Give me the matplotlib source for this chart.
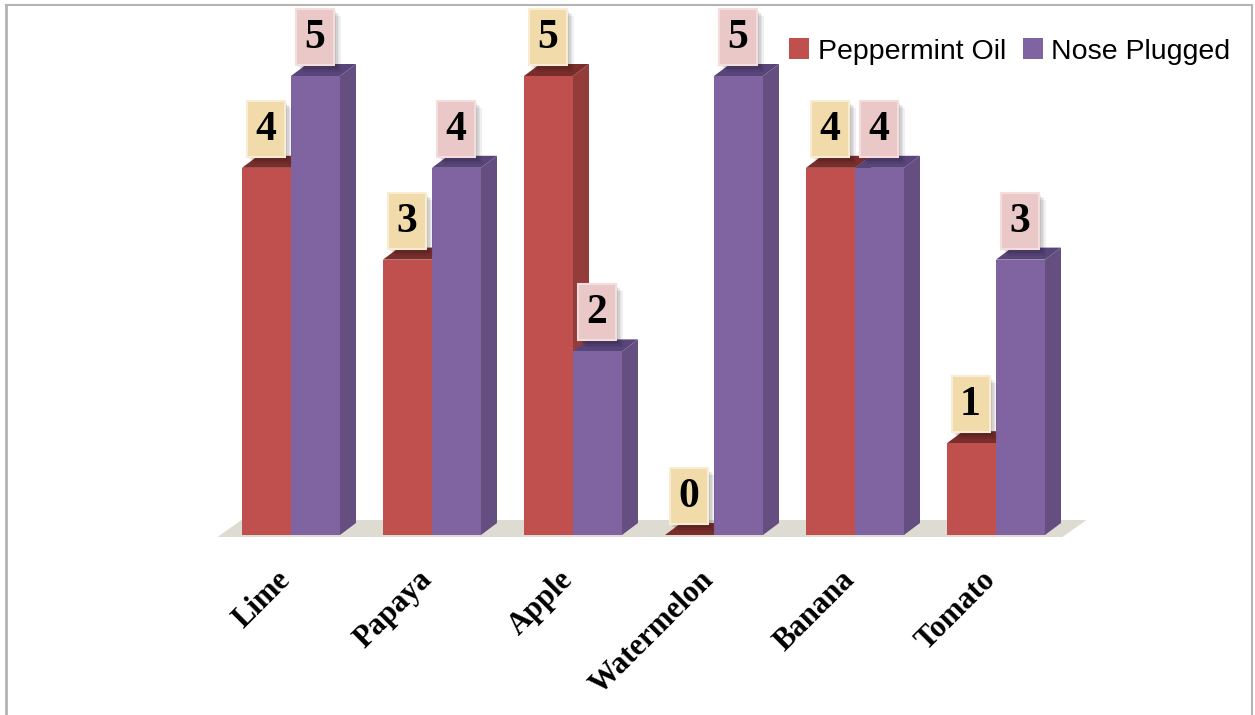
import matplotlib
matplotlib.use("Agg")
import matplotlib.pyplot as plt
from matplotlib.patches import Polygon, Rectangle, Patch
from matplotlib.lines import Line2D

# data
categorias = ["Lime", "Papaya", "Apple", "Watermelon", "Banana", "Tomato"]
series_nomes = ["Peppermint Oil", "Nose Plugged"]
peppermint = [4, 3, 5, 0, 4, 1]
nariz_tapado = [5, 4, 2, 5, 4, 3]

# estilo
cor_frente = ["#c0504d", "#8064a2"]
cor_lado = ["#943c39", "#644f80"]
cor_topo = ["#7a2e2c", "#58457a"]
cor_caixa = ["#f2dbaa", "#ebc8c8"]
cor_borda_caixa = ["#f8ecd2", "#f4dddd"]

W, H = 1255, 715
PX_X = 141.0      # pixels por categoria
PX_Y = 91.8       # pixels por unidade
X0, Y0 = 291, 535  # pixel do centro do grupo 0 / base


def px_x(p):
    return p / PX_X


def px_y(p):
    return p / PX_Y


fig = plt.figure(figsize=(W / 100, H / 100), dpi=100)
ax = fig.add_axes([0, 0, 1, 1])
ax.set_xlim(-X0 / PX_X, (W - X0) / PX_X)
ax.set_ylim(-(H - Y0) / PX_Y, Y0 / PX_Y)
ax.axis("off")

largura = px_x(49)
prof_x = px_x(16)
prof_y = px_y(12)

# chao
n = len(categorias)
chao_esq = -0.5 - px_x(3)
chao_dir = n - 1 + 0.5 - px_x(4)
piso = Polygon([(chao_esq, -px_y(2)), (chao_dir, -px_y(2)),
                (chao_dir + px_x(24), px_y(15)), (chao_esq + px_x(24), px_y(15))],
               closed=True, facecolor="#dedbd3", edgecolor="none", zorder=1)
ax.add_patch(piso)

valores = [peppermint, nariz_tapado]

for i in range(n):
    for s in range(2):
        v = valores[s][i]
        x0 = i - largura + s * largura
        x1 = x0 + largura
        z = 2 + i * 3 + s
        # lado
        ax.add_patch(Polygon([(x1, 0), (x1 + prof_x, prof_y),
                              (x1 + prof_x, v + prof_y), (x1, v)],
                             closed=True, facecolor=cor_lado[s], edgecolor="none", zorder=z))
        # topo
        ax.add_patch(Polygon([(x0, v), (x1, v), (x1 + prof_x, v + prof_y),
                              (x0 + prof_x, v + prof_y)],
                             closed=True, facecolor=cor_topo[s], edgecolor="none", zorder=z))
        # frente
        ax.bar(x0, v, width=largura, align="edge", color=cor_frente[s],
               edgecolor="none", zorder=z)

# rotulos de valor
cw, ch = px_x(38), px_y(56)
for i in range(n):
    for s in range(2):
        v = valores[s][i]
        cx = i - largura / 2 + s * largura - px_x(1)
        base = v + px_y(11)
        # sombra
        for k, a in enumerate([0.06, 0.06, 0.07, 0.08]):
            off = 7 - k * 1.5
            ax.add_patch(Rectangle((cx - cw / 2 + px_x(off), base - px_y(off)), cw, ch,
                                   facecolor="#000000", alpha=a, edgecolor="none", zorder=40))
        ax.add_patch(Rectangle((cx - cw / 2, base), cw, ch, facecolor=cor_caixa[s],
                               edgecolor=cor_borda_caixa[s], linewidth=1.5, zorder=41))
        ax.text(cx, base + ch / 2 - px_y(1), str(v), ha="center", va="center",
                fontsize=30, fontweight="bold", family="Liberation Serif",
                color="black", zorder=42)

# rotulos das categorias
for i, nome in enumerate(categorias):
    ax.text(i - px_x(15), -px_y(30), nome, rotation=45, rotation_mode="anchor",
            ha="right", va="top", fontsize=22, fontweight="bold",
            family="Liberation Serif", color="black")

# legenda
handles = [Patch(facecolor=cor_frente[k], edgecolor="none") for k in range(2)]
leg = fig.legend(handles, series_nomes, loc="upper right",
                 bbox_to_anchor=(1242 / W, 1 - 27 / H), ncol=2, frameon=False,
                 prop={"family": "Liberation Sans", "size": 20.5},
                 handlelength=0.7, handleheight=0.75, handletextpad=0.3,
                 columnspacing=0.6, borderaxespad=0)

# moldura
cinza = "#b4b4b4"
fig.add_artist(Line2D([6 / W, 6 / W], [0, 1 - 5 / H], color=cinza, lw=2, transform=fig.transFigure))
fig.add_artist(Line2D([6 / W, 1252 / W], [1 - 5 / H, 1 - 5 / H], color=cinza, lw=1.5, transform=fig.transFigure))
fig.add_artist(Line2D([1252 / W, 1252 / W], [0, 1 - 5 / H], color=cinza, lw=1.5, transform=fig.transFigure))

fig.savefig("out.png", dpi=100, facecolor="white")
